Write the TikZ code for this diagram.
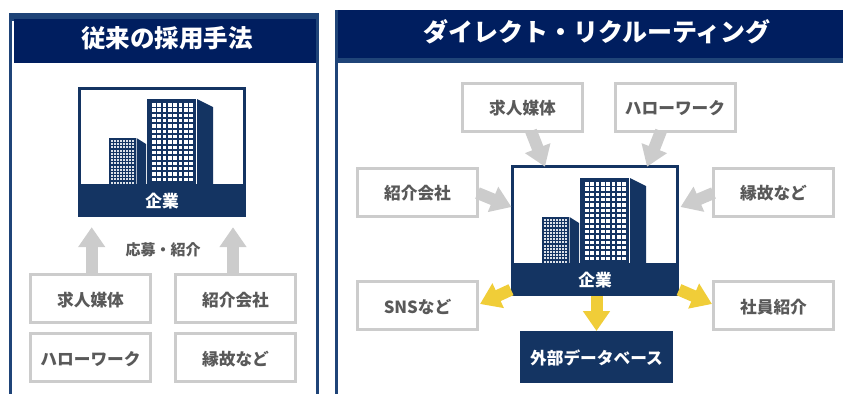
\documentclass[tikz,border=0pt]{standalone}
\usepackage{fontspec}
\setmainfont{Noto Sans CJK JP}
\usetikzlibrary{positioning,arrows.meta}
\definecolor{navy}{HTML}{001E5F}
\definecolor{deep}{HTML}{143462}
\definecolor{rim}{HTML}{1F4478}
\definecolor{pale}{HTML}{CCCCCC}
\definecolor{ink}{HTML}{595959}
\definecolor{gold}{HTML}{F0CD38}
\tikzstyle{srcbox} = [rectangle, minimum width=120pt, minimum height=48pt, line width=3pt, outer sep=0pt, draw=pale, fill=white, text=ink, text height=16pt, text depth=0.4pt, font=\fontsize{16.7}{16.7}\selectfont\bfseries]
\tikzstyle{compbox} = [rectangle, minimum width=165pt, minimum height=127.5pt, line width=3pt, outer sep=0pt, draw=deep, fill=white]
\tikzstyle{band} = [rectangle, minimum width=168pt, minimum height=33pt, outer sep=0pt, fill=deep, text=white, text height=15pt, text depth=1pt, font=\fontsize{16.7}{16.7}\selectfont\bfseries]
\tikzstyle{dbbox} = [rectangle, minimum width=153pt, minimum height=52pt, outer sep=0pt, fill=deep, text=white, text height=15pt, text depth=1pt, font=\fontsize{16.7}{16.7}\selectfont\bfseries]
\tikzstyle{title} = [text=white, font=\fontsize{24.5}{24.5}\selectfont\bfseries]
\tikzstyle{grayarrow} = [line width=12pt, draw=pale, -{Triangle[length=20pt,width=26pt,fill=pale]}]
\tikzstyle{goldarrow} = [line width=12pt, draw=gold, -{Triangle[length=20pt,width=26pt,fill=gold]}]

% towers, placed from the top left corner of the left company box
\newcommand{\towers}{
  \fill[deep] (69,12) rectangle (118,97);
  \fill[deep] (119,12) -- (135,20) -- (135,97) -- (119,97) -- cycle;
  \foreach \i in {0,...,7}
    \foreach \j in {0,...,14}
      \fill[white] (74+5.35*\i,16+5.33*\j) rectangle +(3.5,3.5);
  \fill[deep] (31,51) rectangle (57.5,97);
  \fill[deep] (58.5,51) -- (68,57) -- (68,97) -- (58.5,97) -- cycle;
  \foreach \i in {0,...,7}
    \foreach \j in {0,...,13}
      \fill[white!85!deep] (32.5+3.05*\i,53+3.2*\j) rectangle +(2,2);
}

\begin{document}
\begin{tikzpicture}[x=1pt,y=-1pt]

\useasboundingbox (0,0) rectangle (843,394);

% left panel
\fill[rim] (9,13) rectangle (319,21);
\fill[navy] (14,19) rectangle (319,63);
\draw[rim, line width=3pt] (10.5,13) -- (10.5,394);
\draw[rim, line width=3pt] (317.5,13) -- (317.5,394);
\node (titleA) [title] at (167,38) {従来の採用手法};

\node (compA) [compbox] at (162,152) {};
\node (bandA) [band, anchor=south] at (162,217.2) {企業};
\begin{scope}[shift={(78,87)}]
\towers
\end{scope}

\node (kyujinA) [srcbox] at (90.5,298.5) {求人媒体};
\node (shokaiA) [srcbox, right of=kyujinA, xshift=116.55pt] {紹介会社};
\node (helloA) [srcbox, below of=kyujinA, yshift=-30.55pt] {ハローワーク};
\node (engoA) [srcbox, right of=helloA, xshift=116.55pt] {縁故など};
\node (applyA) [text=ink, font=\fontsize{15}{15}\selectfont\bfseries] at (163,250) {応募・紹介};

\draw [grayarrow, shorten >=10pt] ([xshift=1.2pt]kyujinA.north) -- ([xshift=1.2pt]kyujinA.north |- bandA.south);
\draw [grayarrow, shorten >=10pt] ([xshift=-2.5pt]shokaiA.north) -- ([xshift=-2.5pt]shokaiA.north |- bandA.south);

% right panel
\fill[rim] (335,56) rectangle (843,63);
\fill[navy] (335,10) rectangle (843,58);
\draw[rim, line width=3pt] (336.5,10) -- (336.5,394);
\node (titleB) [title, font=\fontsize{25}{25}\selectfont\bfseries] at (597,32) {ダイレクト・リクルーティング};

\node (compB) [compbox] at (595,230.5) {};
\node (bandB) [band, anchor=south] at (595,296.2) {企業};
\begin{scope}[shift={(511,166)}]
\towers
\end{scope}

\node (kyujinB) [srcbox, above of=compB, xshift=-72.5pt, yshift=95.05pt] {求人媒体};
\node (helloB) [srcbox, right of=kyujinB, xshift=124.05pt] {ハローワーク};
\node (shokaiB) [srcbox, left of=compB, xshift=-149.05pt, yshift=38.5pt] {紹介会社};
\node (engoB) [srcbox, right of=compB, xshift=150.05pt, yshift=38.5pt] {縁故など};
\node (snsB) [srcbox, below of=shokaiB, yshift=-85.05pt] {SNSなど};
\node (shainB) [srcbox, below of=engoB, yshift=-85.05pt] {社員紹介};
\node (dbB) [dbbox, below of=compB, xshift=1.5pt, yshift=-98.05pt] {外部データベース};

\draw [grayarrow] ([xshift=8.5pt]kyujinB.south) -- ([xshift=-50pt]compB.north);
\draw [grayarrow] ([xshift=-14pt]helloB.south) -- ([xshift=52pt]compB.north);
\draw [grayarrow] ([yshift=-1pt]shokaiB.east) -- ([xshift=-1pt,yshift=23.5pt]compB.west);
\draw [grayarrow] ([yshift=-1pt]engoB.west) -- ([xshift=3pt,yshift=23.5pt]compB.east);
\draw [goldarrow] ([yshift=-10pt]bandB.west) -- ([xshift=2.5pt,yshift=1.5pt]snsB.east);
\draw [goldarrow] ([yshift=-10pt]bandB.east) -- ([xshift=-1.5pt,yshift=1.5pt]shainB.west);
\draw [goldarrow] (bandB.south -| dbB.north) -- (dbB.north);

\end{tikzpicture}
\end{document}
